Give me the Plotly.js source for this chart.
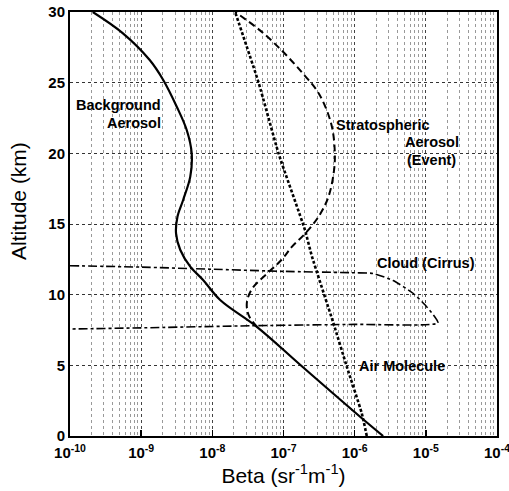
<!DOCTYPE html>
<html>
<head>
<meta charset="utf-8">
<script src="https://cdn.plot.ly/plotly-3.0.1.min.js"></script>
<style>html,body{margin:0;padding:0;background:#fff}#chart{width:509px;height:491px}</style>
</head>
<body>
<div id="chart"></div>
<script>
// Log10 of beta values (sr^-1 m^-1) and altitudes (km)
const bgAlt = [0, 1.13, 4.88, 7.71, 9.62, 11.04, 11.98, 13.16, 14.34, 15.52, 16.70, 18.35, 20.0, 21.65, 23.30, 25.19, 26.60, 28.51, 30];
const bgExp = [-5.60, -5.87, -6.73, -7.37, -7.89, -8.13, -8.31, -8.45, -8.51, -8.49, -8.41, -8.31, -8.29, -8.36, -8.50, -8.69, -8.88, -9.26, -9.68];

const molAlt = [0, 1.6, 4.9, 8.0, 12.7, 14.6, 20.0, 25.0, 30];
const molExp = [-5.83, -5.90, -6.11, -6.30, -6.60, -6.70, -7.07, -7.35, -7.68];

const strAlt = [7.71, 8.35, 8.9, 9.6, 10.5, 11.5, 12.45, 13.4, 14.3, 15.5, 16.9, 18.8, 20.2, 22.1, 24.2, 25.6, 27.2, 28.7, 30];
const strExp = [-7.37, -7.47, -7.51, -7.51, -7.43, -7.23, -7.03, -6.88, -6.70, -6.51, -6.37, -6.29, -6.28, -6.33, -6.50, -6.72, -7.01, -7.33, -7.68];

const cldAlt = [12.05, 11.95, 11.8, 11.65, 11.55, 11.5, 11.0, 10.1, 9.1, 8.0, 7.9, 7.8, 7.65, 7.57];
const cldExp = [-10, -9, -8, -7, -6, -5.74, -5.46, -5.18, -4.98, -4.83, -6, -7.47, -9, -10];

const xTickVals = [1e-10, 1e-9, 1e-8, 1e-7, 1e-6, 1e-5, 1e-4];
const xTickText = ['10<sup>-10</sup>', '10<sup>-9</sup>', '10<sup>-8</sup>', '10<sup>-7</sup>', '10<sup>-6</sup>', '10<sup>-5</sup>', '10<sup>-4</sup>'];
const yTickVals = [0, 5, 10, 15, 20, 25, 30];

const pow = a => a.map(e => Math.pow(10, e));
const FONT = 'Liberation Sans, Arial, Helvetica, sans-serif';

const traces = [
  {x: pow(bgExp), y: bgAlt, mode: 'lines', line: {color: '#000', width: 2.2, shape: 'spline', smoothing: 1}, name: 'Background Aerosol'},
  {x: pow(molExp), y: molAlt, mode: 'lines', line: {color: '#000', width: 2.6, dash: '3px,2px', shape: 'spline', smoothing: 0.5}, name: 'Air Molecule'},
  {x: pow(strExp), y: strAlt, mode: 'lines', line: {color: '#000', width: 2, dash: '7px,4px', shape: 'spline', smoothing: 1}, name: 'Stratospheric Aerosol'},
  {x: pow(cldExp), y: cldAlt, mode: 'lines', line: {color: '#000', width: 1.6, dash: 'dashdot', shape: 'spline', smoothing: 0.5}, name: 'Cloud (Cirrus)'}
];

// pixel -> paper helpers (plot area 70..497 x, 12..436 y)
const px = v => (v - 70) / 427;
const py = v => (436 - v) / 424;
const ann = (text, x, y, anchor) => ({text: '<b>' + text + '</b>', xref: 'paper', yref: 'paper', x: px(x), y: py(y),
  xanchor: anchor || 'left', yanchor: 'middle', showarrow: false, font: {family: FONT, size: 14.5, color: '#000'}});

const layout = {
  width: 509, height: 491,
  margin: {l: 70, r: 12, t: 12, b: 55},
  paper_bgcolor: '#fff', plot_bgcolor: '#fff',
  showlegend: false,
  xaxis: {
    type: 'log', range: [-10, -4],
    tickvals: xTickVals, ticktext: xTickText,
    ticks: 'inside', ticklen: 6, tickwidth: 1.5, tickcolor: '#000',
    ticklabeloverflow: 'allow', ticklabelstandoff: 2,
    showline: true, linecolor: '#000', linewidth: 2, mirror: true,
    showgrid: true, gridcolor: '#444', griddash: 'dot', gridwidth: 1,
    minor: {dtick: 'D1', showgrid: true, gridcolor: '#999', griddash: 'dot', gridwidth: 1, ticks: ''},
    tickfont: {family: FONT, size: 15, color: '#000', weight: 'bold'},
    title: {text: 'Beta (sr<sup>-1</sup>m<sup>-1</sup>)', font: {family: FONT, size: 21, color: '#000'}, standoff: 4},
    zeroline: false
  },
  yaxis: {
    range: [0, 30], tickvals: yTickVals,
    ticks: '', showline: true, linecolor: '#000', linewidth: 2, mirror: true,
    showgrid: true, gridcolor: '#333', griddash: 'dot', gridwidth: 1,
    tickfont: {family: FONT, size: 15, color: '#000', weight: 'bold'},
    zeroline: false
  },
  annotations: [
    {text: 'Altitude (km)', xref: 'paper', yref: 'paper', x: px(18), y: py(201), textangle: -90,
     xanchor: 'center', yanchor: 'middle', showarrow: false, font: {family: FONT, size: 21, color: '#000'}},
    ann('Background', 163, 105, 'right'),
    ann('Aerosol', 163, 123, 'right'),
    ann('Stratospheric', 334, 125),
    ann('Aerosol', 403, 142),
    ann('(Event)', 405, 160),
    ann('Cloud (Cirrus)', 375, 263),
    ann('Air Molecule', 357, 366)
  ]
};

Plotly.newPlot('chart', traces, layout, {staticPlot: true, displayModeBar: false});
</script>
</body>
</html>
